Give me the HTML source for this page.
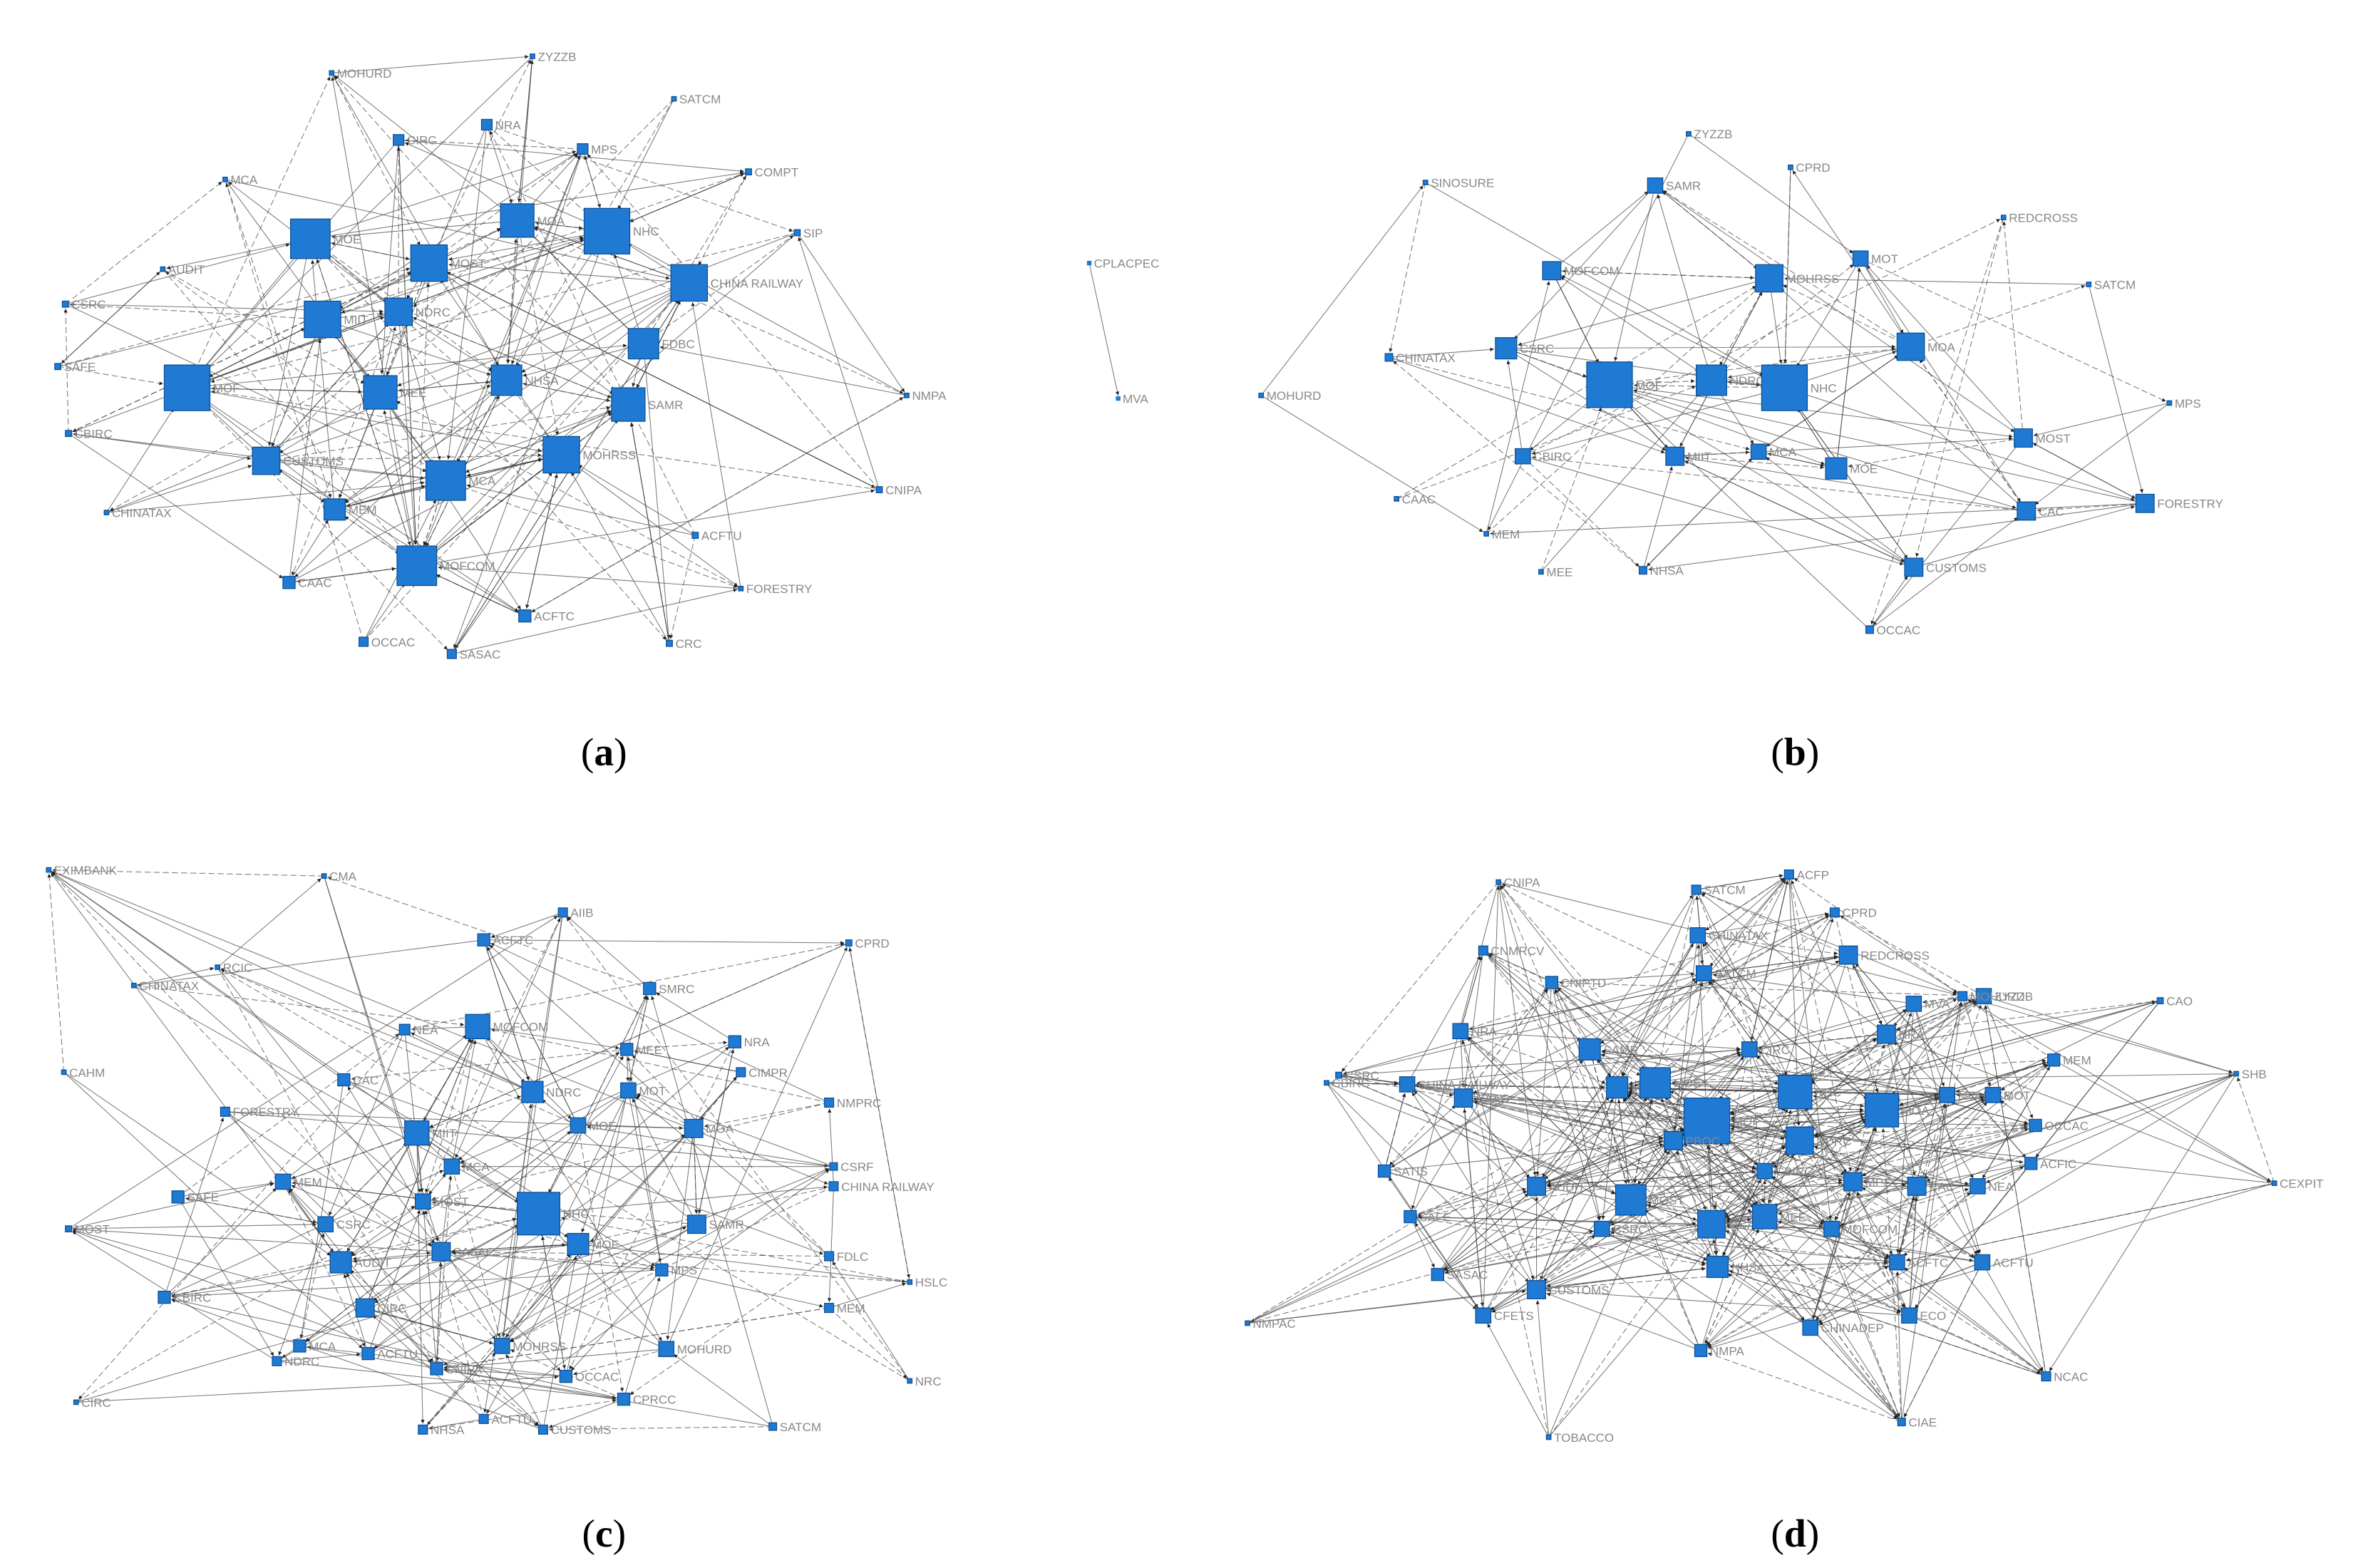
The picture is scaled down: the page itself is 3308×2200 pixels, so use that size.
<!DOCTYPE html>
<html><head><meta charset="utf-8"><style>
html,body{margin:0;padding:0;background:#fff;}
svg{display:block;}
</style></head><body>
<svg id="s" width="3308" height="2200" viewBox="0 0 1550 1031" preserveAspectRatio="none" xmlns="http://www.w3.org/2000/svg">
<defs><marker id="ar" viewBox="0 0 10 10" refX="10" refY="5" markerWidth="5" markerHeight="5" orient="auto"><path d="M0,0L10,5L0,10z" fill="#222"/></marker></defs>
<g id="edges" stroke="#444" stroke-width="0.5" stroke-opacity="0.7" fill="none"></g>
<g id="nodes"></g>
<g font-family="Liberation Serif, serif" font-size="26" fill="#000" text-anchor="middle">
<text x="397" y="503">(<tspan font-weight="bold">a</tspan>)</text>
<text x="1180" y="503">(<tspan font-weight="bold">b</tspan>)</text>
<text x="397" y="1017">(<tspan font-weight="bold">c</tspan>)</text>
<text x="1180" y="1017">(<tspan font-weight="bold">d</tspan>)</text>
</g>
</svg>
<script>
const panels=[
[[218,48,3,"MOHURD"],[350,37,3,"ZYZZB"],[443,65,3,"SATCM"],[262,92,7,"CIRC"],[320,82,7,"NRA"],[383,98,7,"MPS"],[148,118,3,"MCA"],[492,113,4,"COMPT"],[524,153,4,"SIP"],[204,157,26,"MOE"],[282,173,24,"MOST"],[340,145,22,"MOA"],[399,152,30,"NHC"],[453,186,24,"CHINA RAILWAY"],[107,177,3,"AUDIT"],[212,210,24,"MIIT"],[262,205,18,"NDRC"],[423,226,20,"FDBC"],[43,200,4,"CSRC"],[38,241,4,"SAFE"],[123,255,30,"MOF"],[250,258,22,"MEE"],[333,250,20,"NHSA"],[413,266,22,"SAMR"],[45,285,4,"CBIRC"],[175,303,18,"CUSTOMS"],[293,316,26,"MCA"],[369,299,24,"MOHRSS"],[596,260,3,"NMPA"],[578,322,4,"CNIPA"],[70,337,3,"CHINATAX"],[220,335,14,"MEM"],[274,372,26,"MOFCOM"],[457,352,4,"ACFTU"],[487,387,3,"FORESTRY"],[190,383,8,"CAAC"],[345,405,8,"ACFTC"],[239,422,6,"OCCAC"],[297,430,6,"SASAC"],[440,423,4,"CRC"]],
[[937,120,3,"SINOSURE"],[1110,88,3,"ZYZZB"],[1177,110,3,"CPRD"],[1088,122,10,"SAMR"],[1020,178,12,"MOFCOM"],[1163,183,18,"MOHRSS"],[1223,170,10,"MOT"],[1317,143,3,"REDCROSS"],[1373,187,3,"SATCM"],[913,235,5,"CHINATAX"],[990,229,14,"CSRC"],[1058,253,30,"MOF"],[1125,250,20,"NDRC"],[1173,255,30,"NHC"],[1256,228,18,"MOA"],[1426,265,3,"MPS"],[829,260,3,"MOHURD"],[1001,300,10,"CBIRC"],[1101,300,12,"MIIT"],[1156,297,10,"MCA"],[1207,308,14,"MOE"],[1330,288,12,"MOST"],[1332,336,12,"CAC"],[1410,331,12,"FORESTRY"],[918,328,3,"CAAC"],[977,351,3,"MEM"],[1013,376,3,"MEE"],[1080,375,5,"NHSA"],[1258,373,12,"CUSTOMS"],[1229,414,5,"OCCAC"]],
[[32,572,3,"EXIMBANK"],[213,576,3,"CMA"],[143,636,3,"RCIC"],[370,600,6,"AIIB"],[318,618,8,"ACFTC"],[558,620,4,"CPRD"],[88,648,3,"CHINATAX"],[314,675,16,"MOFCOM"],[427,650,8,"SMRC"],[266,677,7,"NEA"],[412,690,8,"MEE"],[483,685,8,"NRA"],[487,705,6,"CIMPR"],[226,710,8,"CAC"],[148,731,6,"FORESTRY"],[350,718,14,"NDRC"],[413,717,10,"MOT"],[545,725,6,"NMPRC"],[42,705,3,"CAHM"],[274,745,16,"MIIT"],[380,740,10,"MOE"],[456,742,12,"MOA"],[297,767,10,"MCA"],[548,767,5,"CSRF"],[548,780,6,"CHINA RAILWAY"],[117,787,8,"SAFE"],[186,777,10,"MEM"],[354,798,28,"NHC"],[380,818,14,"MOF"],[458,805,12,"SAMR"],[278,790,10,"MOST"],[45,808,4,"MOST"],[545,826,6,"FDLC"],[214,805,10,"CSRC"],[224,830,14,"AUDIT"],[290,823,12,"SASAC"],[435,835,8,"MPS"],[108,853,8,"CBIRC"],[598,843,3,"HSLC"],[240,860,12,"CIRC"],[545,860,6,"MEM"],[197,885,8,"MCA"],[182,895,6,"NDRC"],[438,887,10,"MOHURD"],[242,890,8,"ACFTU"],[330,885,10,"MOHRSS"],[287,900,8,"CNIPA"],[50,922,3,"CIRC"],[278,940,6,"NHSA"],[318,933,6,"ACFTU"],[357,940,6,"CUSTOMS"],[372,905,8,"OCCAC"],[410,920,8,"CPRCC"],[508,938,5,"SATCM"],[598,908,3,"NRC"]],
[[1122,737,30,"MOF"],[1180,718,22,"NHC"],[1183,750,18,"NDRC"],[1237,730,22,"MOA"],[1063,715,14,"MIIT"],[1088,712,20,"MOE"],[1072,789,20,"MOST"],[1125,805,18,"MCA"],[1160,800,16,"MEE"],[1045,690,14,"SAMR"],[1129,833,14,"NHSA"],[1218,777,12,"MPS"],[1260,780,12,"CAC"],[1240,680,12,"NRA"],[1215,628,12,"REDCROSS"],[1258,660,10,"MVA"],[1116,615,10,"CHINATAX"],[1120,640,10,"SATCM"],[960,678,10,"NRA"],[925,713,10,"CHINA RAILWAY"],[962,722,12,"CAAC"],[1010,780,12,"AUDIT"],[1053,808,10,"CSRC"],[1010,848,12,"CUSTOMS"],[975,865,10,"CFETS"],[927,800,8,"SAFE"],[945,838,8,"SASAC"],[910,770,8,"SATIS"],[1100,750,12,"PBOC"],[1300,780,10,"NEA"],[1303,830,10,"ACFTU"],[1247,830,10,"ACFTC"],[1255,865,10,"ECO"],[1190,873,10,"CHINADEP"],[1118,888,8,"NMPA"],[1345,905,6,"NCAC"],[1250,935,5,"CIAE"],[1338,740,8,"OCCAC"],[1335,765,8,"ACFIC"],[1350,697,8,"MEM"],[1304,655,10,"ZYZZB"],[1420,658,4,"CAO"],[1470,706,3,"SHB"],[1495,778,3,"CEXPIT"],[1290,655,6,"MOHURD"],[1176,575,6,"ACFP"],[1115,585,6,"SATCM"],[1206,600,6,"CPRD"],[1020,646,8,"CNIPTD"],[975,625,6,"CNMRCV"],[985,580,3,"CNIPA"],[880,707,4,"CSRC"],[872,712,3,"CBIRC"],[820,870,3,"NMPAC"],[1018,945,3,"TOBACCO"],[1204,808,10,"MOFCOM"],[1280,720,10,"MOHRSS"],[1310,720,10,"MOT"],[1150,690,10,"CIRC"],[1160,770,10,"CBIRC"]]
];
const dens=[1.2,0.9,1.1,2.0];
let seed=7;function rnd(){seed=(seed*16807)%2147483647;return seed/2147483647;}
const E=document.getElementById('edges'),N=document.getElementById('nodes'),ns='http://www.w3.org/2000/svg';
panels.forEach((nodes,pi)=>{
  function pick(n){
    const w=nodes.map(t=>t===n?0:(t[2]+3)/Math.pow(Math.hypot(t[0]-n[0],t[1]-n[1])+60,1.3));
    const tot=w.reduce((a,b)=>a+b,0);let r=rnd()*tot;
    for(let i=0;i<nodes.length;i++){r-=w[i];if(r<=0)return nodes[i];}return nodes[0];}
  if(pi==0){const l=document.createElementNS(ns,'line');l.setAttribute('x1',716);l.setAttribute('y1',173);l.setAttribute('x2',735);l.setAttribute('y2',260);l.setAttribute('marker-end','url(#ar)');E.appendChild(l);}
  nodes.forEach(n=>{
    const m=Math.round((2+n[2]/4)*dens[pi]);
    for(let k=0;k<m;k++){
      let t=pick(n);
      const dx=t[0]-n[0],dy=t[1]-n[1],d=Math.hypot(dx,dy)||1;
      const r=t[2]/2+1;
      const l=document.createElementNS(ns,'line');
      l.setAttribute('x1',n[0]);l.setAttribute('y1',n[1]);
      l.setAttribute('x2',(t[0]-dx/d*r).toFixed(1));l.setAttribute('y2',(t[1]-dy/d*r).toFixed(1));
      l.setAttribute('marker-end','url(#ar)');
      if(rnd()<0.3)l.setAttribute('stroke-dasharray','4 2');
      E.appendChild(l);
    }
  });
  nodes.forEach(n=>{
    const s=n[2];
    const r=document.createElementNS(ns,'rect');
    r.setAttribute('x',n[0]-s/2);r.setAttribute('y',n[1]-s/2);r.setAttribute('width',s);r.setAttribute('height',s);
    r.setAttribute('fill','#1f7ad4');r.setAttribute('stroke','#0d4f96');r.setAttribute('stroke-width','0.6');
    N.appendChild(r);
    const t=document.createElementNS(ns,'text');
    t.setAttribute('x',n[0]+s/2+2);t.setAttribute('y',n[1]+3);
    t.setAttribute('font-family','Liberation Sans, sans-serif');t.setAttribute('font-size','8');t.setAttribute('fill','#888');
    t.textContent=n[3];N.appendChild(t);
  });
});
[[716,173,3,"CPLACPEC"],[735,262,3,"MVA"]].forEach(n=>{
  const r=document.createElementNS(ns,'rect');r.setAttribute('x',n[0]-1.5);r.setAttribute('y',n[1]-1.5);r.setAttribute('width',3);r.setAttribute('height',3);r.setAttribute('fill','#1f7ad4');N.appendChild(r);
  const t=document.createElementNS(ns,'text');t.setAttribute('x',n[0]+3);t.setAttribute('y',n[1]+3);t.setAttribute('font-family','Liberation Sans, sans-serif');t.setAttribute('font-size','8');t.setAttribute('fill','#888');t.textContent=n[3];N.appendChild(t);
});
</script>
</body></html>
